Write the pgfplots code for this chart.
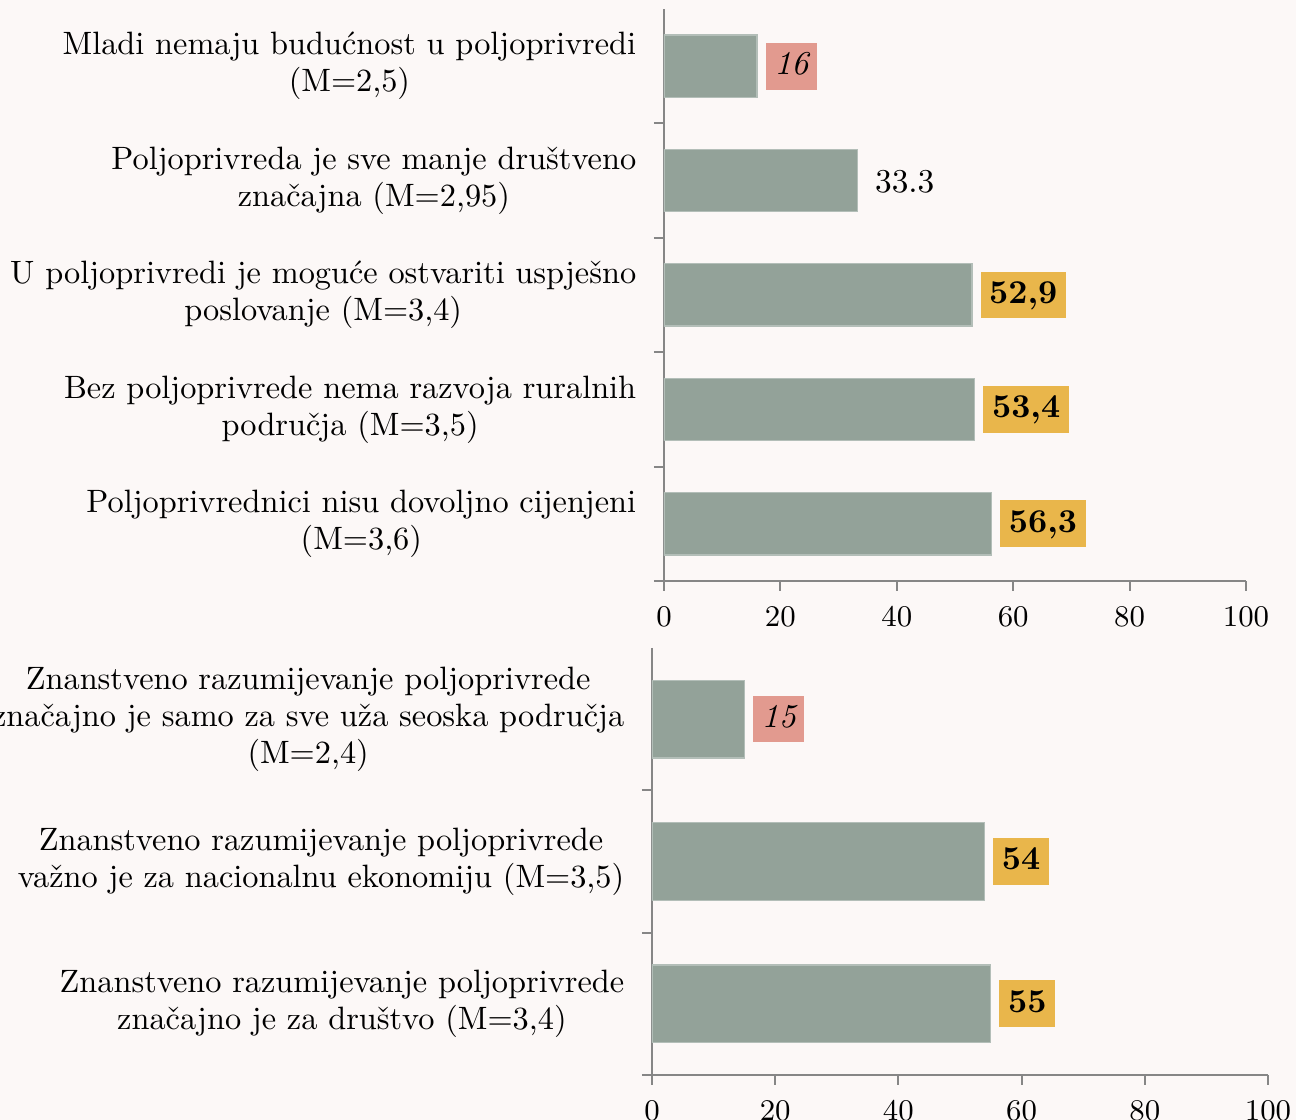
\documentclass[border=0pt]{standalone}
\usepackage{pgfplots}
\pgfplotsset{compat=1.18}
\definecolor{bg}{HTML}{FCF8F7}
\definecolor{barc}{HTML}{93A299}
\definecolor{pinkc}{HTML}{E29A8F}
\definecolor{orc}{HTML}{E9B64B}
\definecolor{axc}{HTML}{868686}
\tikzset{lab/.style={anchor=west, xshift=2.4pt, inner xsep=2.6pt, inner ysep=2.5pt, text height=7pt, text depth=2pt, font=\fontsize{10}{11.1}\selectfont}}
\pgfplotsset{mystyle/.style={
  scale only axis,
  xbar, bar shift=0pt, bar width=0.545,
  xmin=0, xmax=100,
  xtick={0,20,...,100},
  axis x line*=bottom, axis y line*=left,
  axis line style={axc, line width=0.6pt},
  tick style={axc, line width=0.6pt},
  major tick length=3pt, minor tick length=3pt,
  tick align=outside,
  major y tick style={draw=none},
  y dir=reverse,
  xticklabel style={font=\fontsize{9}{10}\selectfont, yshift=-1.2pt},
  yticklabel style={align=center, font=\fontsize{9.7}{11.1}\selectfont, xshift=-1.8pt},
}}
\begin{document}
\begin{tikzpicture}
\path[use as bounding box, fill=bg] (0pt,0pt) rectangle (388.8pt,336pt);
\begin{axis}[mystyle, at={(199.2pt,161.7pt)}, anchor=south west,
  width=174.6pt, height=171.6pt, ymin=0.5, ymax=5.5,
  ytick={1,2,3,4,5},
  minor ytick={1.5,2.5,3.5,4.5,5.5},
  yticklabels={{Mladi nemaju budućnost u poljoprivredi\\(M=2,5)},
    {Poljoprivreda je sve manje društveno\\značajna (M=2,95)},
    {U poljoprivredi je moguće ostvariti uspješno\\poslovanje (M=3,4)},
    {Bez poljoprivrede nema razvoja ruralnih\\područja (M=3,5)},
    {Poljoprivrednici nisu dovoljno cijenjeni\\(M=3,6)}}]
\addplot[fill=barc, draw=barc!70!white] coordinates {(16,1) (33.3,2) (52.9,3) (53.4,4) (56.3,5)};
\node[lab, fill=pinkc] at (axis cs:16,1) {\itshape 16};
\node[lab, yshift=-1.2pt] at (axis cs:33.3,2) {33.3};
\node[lab, fill=orc] at (axis cs:52.9,3) {\bfseries 52,9};
\node[lab, fill=orc] at (axis cs:53.4,4) {\bfseries 53,4};
\node[lab, fill=orc] at (axis cs:56.3,5) {\bfseries 56,3};
\end{axis}
\begin{axis}[mystyle, at={(195.6pt,13.5pt)}, anchor=south west,
  width=184.8pt, height=128.1pt, ymin=0.5, ymax=3.5,
  ytick={1,2,3},
  minor ytick={1.5,2.5,3.5},
  yticklabels={{Znanstveno razumijevanje poljoprivrede\\značajno je samo za sve uža seoska područja\\(M=2,4)},
    {Znanstveno razumijevanje poljoprivrede\\važno je za nacionalnu ekonomiju (M=3,5)},
    {Znanstveno razumijevanje poljoprivrede\\značajno je za društvo (M=3,4)}}]
\addplot[fill=barc, draw=barc!70!white] coordinates {(15,1) (54,2) (55,3)};
\node[lab, fill=pinkc] at (axis cs:15,1) {\itshape 15};
\node[lab, fill=orc] at (axis cs:54,2) {\bfseries 54};
\node[lab, fill=orc] at (axis cs:55,3) {\bfseries 55};
\end{axis}
\end{tikzpicture}
\end{document}
